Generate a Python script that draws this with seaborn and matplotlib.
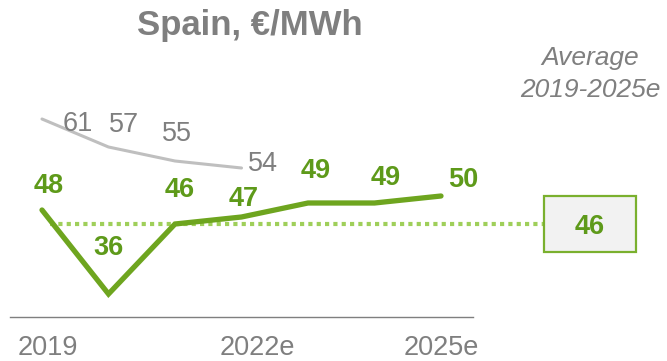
import matplotlib
matplotlib.use("Agg")
import matplotlib.pyplot as plt
from matplotlib.patches import Rectangle
from matplotlib.transforms import ScaledTranslation
import seaborn as sns
import pandas as pd

# Wholesale power price, Spain (EUR/MWh)
years = ["2019", "2020", "2021", "2022e", "2023e", "2024e", "2025e"]
current_forecast = [48, 36, 46, 47, 49, 49, 50]
previous_forecast = [61, 57, 55, 54]
average_value = 46
tick_years = ["2019", "2022e", "2025e"]

GREEN = "#6ea51f"
GREEN_TEXT = "#5e9a1a"
GREEN_LIGHT = "#9fcf5a"
GREY_LINE = "#bfbfbf"
GREY_TEXT = "#7f7f7f"

sns.set_theme(style="white")
plt.rcParams["font.family"] = ["Liberation Sans", "DejaVu Sans"]

df_cur = pd.DataFrame({"pos": range(len(years)), "price": current_forecast})
df_prev = pd.DataFrame({"pos": range(len(previous_forecast)), "price": previous_forecast})

fig = plt.figure(figsize=(6.67, 3.61), dpi=100)
W, H = 667, 361
ax = fig.add_axes([10 / W, 44 / H, 463 / W, 317 / H])

sns.lineplot(data=df_prev, x="pos", y="price", ax=ax, color=GREY_LINE, lw=2.2,
             solid_capstyle="round", clip_on=False)
sns.lineplot(data=df_cur, x="pos", y="price", ax=ax, color=GREEN, lw=3.8,
             solid_capstyle="round", solid_joinstyle="miter", clip_on=False)

ax.set_xlim(-0.4812, 6.4812)
ax.set_ylim(32.714, 78)

# average reference line running into the summary box
box_left, box_right = 7.549, 8.932
ax.plot([0.12, box_left], [average_value, average_value], color=GREEN_LIGHT, lw=3.0,
        linestyle=(0, (1, 1)), dash_capstyle="butt", clip_on=False, zorder=1)
ax.add_patch(Rectangle((box_left, average_value - 4), box_right - box_left, 8,
                       facecolor="#f2f2f2", edgecolor="#7ab02e", lw=1.6, clip_on=False))
ax.text((box_left + box_right) / 2, average_value, str(average_value), ha="center",
        va="center_baseline", fontsize=19.5, fontweight="bold", color=GREEN_TEXT, clip_on=False)
ax.text((box_left + box_right) / 2, 67.4, "Average\n2019-2025e", ha="center", va="center",
        fontsize=19, style="italic", color=GREY_TEXT, linespacing=1.45)

# value labels (offsets in pixels)
cur_offsets = [(7, 27), (0, 49), (5, 37), (2, 21), (8, 35), (11, 28), (22, 19)]
prev_offsets = [(36, -2), (16, 25), (2, 30), (21, 7)]
for i, (v, (dx, dy)) in enumerate(zip(current_forecast, cur_offsets)):
    ax.annotate(str(v), (i, v), xytext=(dx * 0.72, dy * 0.72), textcoords="offset points",
                ha="center", va="center_baseline", fontsize=19.5, fontweight="bold",
                color=GREEN_TEXT, annotation_clip=False)
for i, (v, (dx, dy)) in enumerate(zip(previous_forecast, prev_offsets)):
    ax.annotate(str(v), (i, v), xytext=(dx * 0.72, dy * 0.72), textcoords="offset points",
                ha="center", va="center_baseline", fontsize=19.5, color=GREY_TEXT,
                annotation_clip=False)

# axes styling
for side in ["top", "right", "left"]:
    ax.spines[side].set_visible(False)
ax.spines["bottom"].set_color("#7f7f7f")
ax.spines["bottom"].set_linewidth(1.0)
ax.set_yticks([])
ax.set_xticks([years.index(y) for y in tick_years])
ax.set_xticklabels(tick_years, fontsize=19.5, color=GREY_TEXT)
ax.tick_params(axis="x", length=0, pad=13)
for lab, dx in zip(ax.get_xticklabels(), [6, 16, 0]):
    lab.set_transform(lab.get_transform() + ScaledTranslation(dx / 100, 0, fig.dpi_scale_trans))
ax.set_xlabel("")
ax.set_ylabel("")

fig.text(250 / W, 1 - 25 / H, "Spain, €/MWh", ha="center", va="center", fontsize=25,
         fontweight="bold", color=GREY_TEXT)

fig.savefig("out.png", dpi=100)
